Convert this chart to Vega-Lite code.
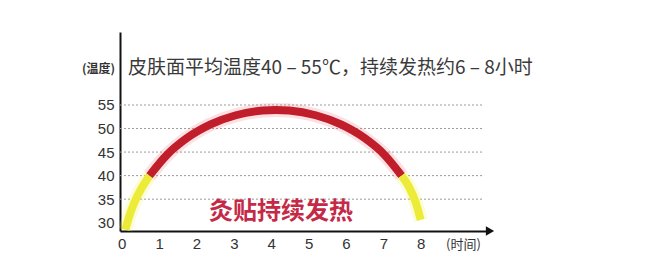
{
  "$schema": "https://vega.github.io/schema/vega-lite/v6.json",
  "autosize": {"type": "none"},
  "padding": {"left": 120, "top": 32, "right": 166, "bottom": 39},
  "width": 370,
  "height": 199,
  "background": "white",
  "config": {
    "view": {"stroke": null},
    "axis": {
      "domainColor": "#111111",
      "domainWidth": 2,
      "ticks": false,
      "grid": false,
      "labelOverlap": false,
      "labelFlush": false,
      "labelFont": "Liberation Sans",
      "labelFontSize": 15,
      "labelColor": "#333333",
      "titleFont": "Noto Sans CJK SC",
      "titleFontSize": 12,
      "titleFontWeight": "bold",
      "titleColor": "#333333"
    },
    "axisY": {"labelPadding": 6, "titleAngle": 0, "titleX": -22, "titleY": 36, "titleAlign": "center", "titleBaseline": "middle"},
    "axisX": {"labelPadding": 5, "titleX": 343, "titleY": 13, "titleAlign": "center", "titleBaseline": "middle", "titleFontWeight": "normal", "titleFontSize": 13}
  },
  "datasets": {
    "curve": [
      {"seg": "a", "hour": 0.10, "temp": 28.5},
      {"seg": "a", "hour": 0.20, "temp": 31.31},
      {"seg": "a", "hour": 0.35, "temp": 34.51},
      {"seg": "a", "hour": 0.55, "temp": 37.57},
      {"seg": "a", "hour": 0.745, "temp": 40.0},
      {"seg": "b", "hour": 0.745, "temp": 40.0},
      {"seg": "b", "hour": 1.205, "temp": 44.35},
      {"seg": "b", "hour": 1.756, "temp": 48.02},
      {"seg": "b", "hour": 2.379, "temp": 50.87},
      {"seg": "b", "hour": 3.055, "temp": 52.82},
      {"seg": "b", "hour": 3.763, "temp": 53.82},
      {"seg": "b", "hour": 4.123, "temp": 53.94},
      {"seg": "b", "hour": 4.483, "temp": 53.82},
      {"seg": "b", "hour": 5.191, "temp": 52.82},
      {"seg": "b", "hour": 5.867, "temp": 50.87},
      {"seg": "b", "hour": 6.49, "temp": 48.02},
      {"seg": "b", "hour": 7.041, "temp": 44.35},
      {"seg": "b", "hour": 7.49, "temp": 40.0},
      {"seg": "c", "hour": 7.49, "temp": 40.0},
      {"seg": "c", "hour": 7.69, "temp": 37.57},
      {"seg": "c", "hour": 7.86, "temp": 34.5},
      {"seg": "c", "hour": 8.0, "temp": 30.6}
    ],
    "grid": [{"temp": 35}, {"temp": 40}, {"temp": 45}, {"temp": 50}, {"temp": 55}],
    "one": [{"n": 1}]
  },
  "layer": [
    {
      "data": {"name": "grid"},
      "mark": {"type": "rule", "color": "#9a9a9a", "strokeWidth": 1, "strokeDash": [2, 2]},
      "encoding": {
        "y": {"field": "temp", "type": "quantitative", "title": "(温度)", "scale": {"domain": [28.24, 70.5], "nice": false, "zero": false}, "axis": {"values": [30, 35, 40, 45, 50, 55]}},
        "x": {"datum": -0.045, "type": "quantitative", "title": "(时间)", "scale": {"domain": [-0.045, 9.855], "nice": false, "zero": false}, "axis": {"values": [0, 1, 2, 3, 4, 5, 6, 7, 8]}},
        "x2": {"datum": 9.667}
      }
    },
    {
      "data": {"name": "curve"},
      "mark": {"type": "line", "strokeWidth": 14, "opacity": 0.22, "interpolate": "monotone", "strokeCap": "butt"},
      "encoding": {
        "x": {"field": "hour", "type": "quantitative", "title": "(时间)", "axis": {"values": [0, 1, 2, 3, 4, 5, 6, 7, 8]}},
        "y": {"field": "temp", "type": "quantitative", "title": "(温度)", "axis": {"values": [30, 35, 40, 45, 50, 55]}},
        "detail": {"field": "seg"},
        "color": {"field": "seg", "type": "nominal", "legend": null, "scale": {"domain": ["a", "b", "c"], "range": ["#f2f04a", "#f07080", "#f2f04a"]}}
      }
    },
    {
      "data": {"name": "curve"},
      "mark": {"type": "line", "strokeWidth": 8, "interpolate": "monotone", "strokeCap": "butt"},
      "encoding": {
        "x": {"field": "hour", "type": "quantitative", "title": "(时间)", "axis": {"values": [0, 1, 2, 3, 4, 5, 6, 7, 8]}},
        "y": {"field": "temp", "type": "quantitative", "title": "(温度)", "axis": {"values": [30, 35, 40, 45, 50, 55]}},
        "detail": {"field": "seg"},
        "stroke": {"field": "seg", "type": "nominal", "legend": null, "scale": {"domain": ["a", "b", "c"], "range": ["#ecec38", "#c01e2a", "#ecec38"]}}
      }
    },
    {
      "data": {"name": "one"},
      "mark": {"type": "point", "shape": "triangle-right", "filled": true, "color": "#111111", "size": 90, "opacity": 1},
      "encoding": {
        "x": {"datum": 9.855, "type": "quantitative", "title": "(时间)", "axis": {"values": [0, 1, 2, 3, 4, 5, 6, 7, 8]}},
        "y": {"datum": 28.24, "type": "quantitative", "title": "(温度)", "axis": {"values": [30, 35, 40, 45, 50, 55]}}
      }
    },
    {
      "data": {"name": "one"},
      "mark": {"type": "text", "text": "灸贴持续发热", "font": "Noto Sans CJK SC", "fontSize": 24, "fontWeight": "bold", "color": "#c42a48", "align": "center", "baseline": "middle"},
      "encoding": {
        "x": {"datum": 4.26, "type": "quantitative", "title": "(时间)", "axis": {"values": [0, 1, 2, 3, 4, 5, 6, 7, 8]}},
        "y": {"datum": 32.27, "type": "quantitative", "title": "(温度)", "axis": {"values": [30, 35, 40, 45, 50, 55]}}
      }
    },
    {
      "data": {"name": "one"},
      "mark": {"type": "text", "text": "皮肤面平均温度40 – 55℃，持续发热约6 – 8小时", "font": "Noto Sans CJK SC", "fontSize": 19, "color": "#3a3a3a", "align": "left", "baseline": "middle"},
      "encoding": {
        "x": {"datum": 0.17, "type": "quantitative", "title": "(时间)", "axis": {"values": [0, 1, 2, 3, 4, 5, 6, 7, 8]}},
        "y": {"datum": 62.86, "type": "quantitative", "title": "(温度)", "axis": {"values": [30, 35, 40, 45, 50, 55]}}
      }
    }
  ]
}
